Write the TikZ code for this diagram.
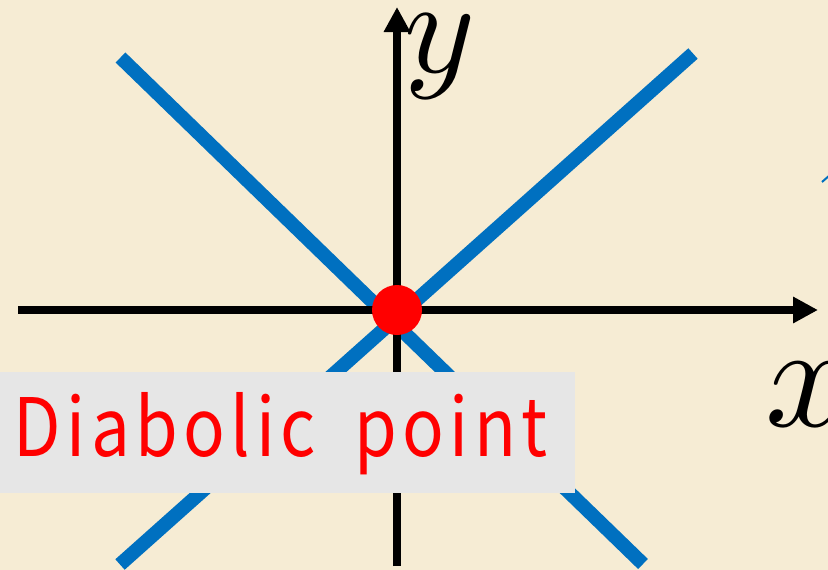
\documentclass[tikz,border=0pt]{standalone}
\usepackage{fontspec}
\newfontfamily\jpfont[LetterSpace=8]{Noto Sans CJK JP}
\usetikzlibrary{arrows.meta}
\definecolor{paper}{RGB}{246,236,212}
\definecolor{lineblue}{RGB}{0,112,192}
\definecolor{boxgray}{RGB}{230,230,230}
\tikzset{
  bandline/.style={draw=lineblue, line width=14pt},
  axisline/.style={draw=black, line width=8pt, -{Triangle[length=25pt,width=25pt]}},
  dotnode/.style={circle, fill=red, inner sep=0pt, minimum size=50pt},
  labelbox/.style={rectangle, fill=boxgray, inner sep=0pt, minimum width=575pt, minimum height=121pt, anchor=north west},
  labeltext/.style={inner sep=0pt, anchor=base west, text=red},
  axislabel/.style={inner sep=0pt, anchor=north west}
}
\begin{document}
\begin{tikzpicture}[x=1pt, y=-1pt]
  \fill[paper] (0,0) rectangle (828,570);
  \useasboundingbox (0,0) rectangle (828,570);
  % end points
  \coordinate (O) at (397,310);
  \coordinate (L1a) at (120.5,57.5);
  \coordinate (L1b) at (643,564);
  \coordinate (L2a) at (693,53.5);
  \coordinate (L2b) at (120,564.5);
  \coordinate (xs) at (18,310);
  \coordinate (xe) at (818,310);
  \coordinate (ys) at (397,566);
  \coordinate (ye) at (397,7);
  % blue bands
  \draw[bandline] (L1a) -- (L1b);
  \draw[bandline] (L2a) -- (L2b);
  % tiny fragment at the right edge
  \coordinate (fa) at (822,182);
  \coordinate (fb) at (830,175);
  \draw[draw=lineblue, line width=2pt] (fa) -- (fb);
  % axes
  \draw[axisline] (xs) -- (xe);
  \draw[axisline] (ys) -- (ye);
  % diabolic point
  \node[dotnode] (dp) at (O) {};
  % label box
  \node[labelbox] (box) at (0,372) {};
  \node[labeltext] (txt) at (13.4,456.7) {\resizebox{534pt}{64pt}{\jpfont Diabolic\hspace{0.25em} point}};
  % axis labels
  \node[axislabel] (ylab) at (404,14) {\scalebox{13.5}{$y$}};
  \node[axislabel] (xlab) at (765,363) {\scalebox{14.8}{$x$}};
\end{tikzpicture}
\end{document}
